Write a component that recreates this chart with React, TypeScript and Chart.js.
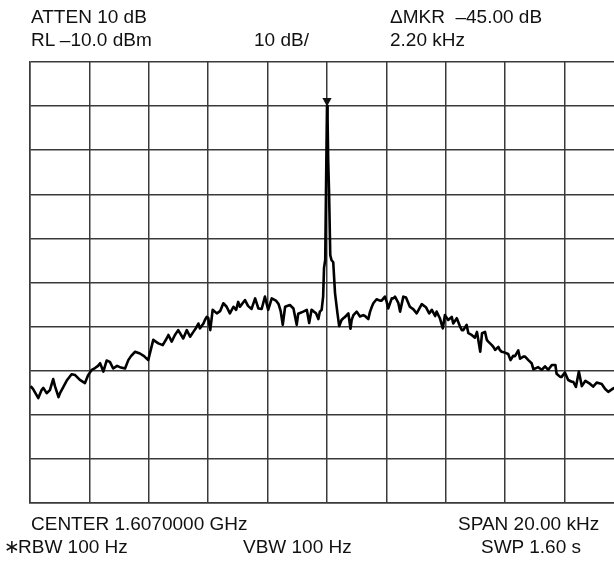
import React, { useEffect, useRef } from "react";
import { Chart, registerables } from "chart.js";

Chart.register(...registerables);

// Frequency offset from center (kHz) and measured level (dBm)
const freqOffsetKHz = [
  -9.98, -9.9, -9.72, -9.61, -9.55, -9.44, -9.33, -9.22, -9.16, -9.04,
  -8.99, -8.88, -8.75, -8.6, -8.48, -8.32, -8.15, -8.04, -7.92, -7.81,
  -7.71, -7.64, -7.53, -7.42, -7.31, -7.2, -7.07, -6.97, -6.8, -6.69,
  -6.6, -6.46, -6.3, -6.16, -6.02, -5.85, -5.68, -5.53, -5.4, -5.34,
  -5.23, -5.12, -5.01, -4.84, -4.72, -4.61, -4.5, -4.41, -4.33, -4.28,
  -4.16, -4.11, -4.05, -4.0, -3.93, -3.85, -3.71, -3.6, -3.49, -3.38,
  -3.27, -3.15, -3.06, -2.99, -2.93, -2.83, -2.76, -2.66, -2.54, -2.42,
  -2.31, -2.2, -2.09, -1.98, -1.86, -1.72, -1.63, -1.56, -1.49, -1.41,
  -1.25, -1.13, -1.02, -0.97, -0.8, -0.68, -0.6, -0.52, -0.46, -0.37,
  -0.29, -0.24, -0.18, -0.13, -0.1, -0.06, -0.03, 0.0, 0.02, 0.04,
  0.07, 0.11, 0.15, 0.21, 0.27, 0.35, 0.41, 0.49, 0.55, 0.61,
  0.72, 0.79, 0.83, 0.89, 1.0, 1.11, 1.22, 1.28, 1.39, 1.45,
  1.51, 1.56, 1.67, 1.78, 1.84, 1.95, 2.01, 2.06, 2.18, 2.23,
  2.29, 2.4, 2.46, 2.57, 2.66, 2.79, 2.91, 3.02, 3.19, 3.33,
  3.44, 3.53, 3.64, 3.69, 3.8, 3.9, 3.97, 4.08, 4.2, 4.25,
  4.37, 4.48, 4.54, 4.59, 4.7, 4.76, 4.87, 4.98, 5.05, 5.16,
  5.22, 5.32, 5.38, 5.43, 5.55, 5.6, 5.66, 5.77, 5.82, 5.88,
  5.99, 6.1, 6.18, 6.27, 6.33, 6.44, 6.5, 6.61, 6.67, 6.78,
  6.89, 6.95, 7.11, 7.23, 7.34, 7.45, 7.57, 7.69, 7.73, 7.85,
  7.9, 8.01, 8.12, 8.24, 8.29, 8.38, 8.48, 8.58, 8.7, 8.86,
  8.96, 9.08, 9.25, 9.36, 9.47, 9.64, 9.8, 9.93, 10.0,
];

const levelDbm = [
  -83.5, -84.1, -86.2, -84.4, -83.9, -85.1, -84.4, -81.9, -83.5, -86.0,
  -85.1, -83.7, -82.1, -80.8, -81.0, -82.1, -82.8, -81.0, -79.8, -79.4,
  -78.9, -78.3, -80.2, -77.7, -78.0, -79.5, -78.9, -79.2, -79.5, -77.6,
  -76.7, -75.7, -76.1, -76.7, -77.6, -73.0, -73.8, -74.2, -72.7, -71.9,
  -73.4, -71.9, -70.8, -72.7, -70.8, -72.3, -71.2, -70.3, -69.3, -70.4,
  -69.3, -68.5, -67.8, -68.0, -70.8, -66.2, -67.0, -66.5, -64.7, -65.5,
  -67.0, -65.5, -66.2, -64.4, -65.5, -64.6, -64.0, -65.3, -66.0, -63.6,
  -65.9, -66.0, -63.2, -66.2, -63.6, -64.1, -64.9, -66.5, -69.6, -65.5,
  -65.1, -65.9, -69.6, -67.1, -66.6, -66.2, -69.2, -66.2, -66.5, -67.0,
  -68.3, -66.6, -66.2, -63.2, -56.7, -54.9, -36.8, -20.0, -23.2, -32.2,
  -39.7, -53.8, -54.9, -55.4, -62.4, -66.9, -69.9, -68.5, -68.1, -67.8,
  -67.0, -70.5, -68.5, -67.4, -66.6, -67.7, -67.4, -67.6, -68.3, -66.6,
  -65.5, -64.7, -63.8, -64.1, -64.1, -63.2, -64.4, -65.9, -63.6, -63.6,
  -63.2, -64.6, -66.6, -63.2, -63.4, -65.5, -66.1, -67.0, -64.9, -65.6,
  -67.0, -66.2, -67.6, -66.6, -68.1, -70.4, -67.4, -68.5, -67.8, -69.3,
  -68.1, -70.0, -70.8, -70.8, -69.6, -71.5, -71.9, -72.5, -71.2, -75.7,
  -71.5, -71.2, -73.0, -73.4, -74.2, -74.6, -75.3, -74.6, -75.3, -75.7,
  -75.9, -76.2, -77.6, -76.6, -76.7, -75.4, -77.3, -76.8, -76.8, -77.6,
  -78.3, -79.7, -79.2, -79.8, -79.0, -79.8, -78.7, -78.7, -80.7, -81.4,
  -81.4, -80.4, -82.1, -82.5, -82.5, -83.7, -80.2, -83.5, -82.3, -83.0,
  -83.6, -82.7, -83.0, -84.1, -84.8, -84.0, -83.5, -84.4, -83.9,
];

// Display settings (span / reference level / scale)
const freqSpanKHz = [-10, 10];
const freqDivKHz = 2;
const levelRangeDbm = [-110, -10];
const levelDivDb = 10;

// Delta marker
const markerFreqKHz = 0;
const markerLevelDbm = -20;

// Annotation texts
const attenText = "ATTEN 10 dB";
const refLevelText = "RL \u201310.0 dBm";
const scaleText = "10 dB/";
const deltaMarkerText = "\u0394MKR  \u201345.00 dB";
const deltaFreqText = "2.20 kHz";
const centerText = "CENTER 1.6070000 GHz";
const spanText = "SPAN 20.00 kHz";
const rbwMarkText = "\u2217";
const rbwText = "RBW 100 Hz";
const vbwText = "VBW 100 Hz";
const sweepText = "SWP 1.60 s";

const FONT_SIZE = 19;
const BASE_OFF = 16;

const markerPlugin = {
  id: "deltaMarker",
  afterDatasetsDraw(chart: any) {
    const { ctx, scales } = chart;
    const px = scales.x.getPixelForValue(markerFreqKHz);
    const py = scales.y.getPixelForValue(markerLevelDbm);
    ctx.save();
    ctx.fillStyle = "#111";
    ctx.beginPath();
    ctx.moveTo(px - 4.6, py - 8);
    ctx.lineTo(px + 4.6, py - 8);
    ctx.lineTo(px, py + 0.5);
    ctx.closePath();
    ctx.fill();
    ctx.restore();
  },
};

function Label({ text, left, baseline, font }: { text: string; left: number; baseline: number; font?: string }) {
  return (
    <div
      style={{
        position: "absolute",
        left,
        top: baseline - BASE_OFF,
        fontFamily: font || '"Liberation Sans", Arial, sans-serif',
        fontSize: FONT_SIZE,
        lineHeight: `${FONT_SIZE}px`,
        color: "#111",
        whiteSpace: "pre",
      }}
    >
      {text}
    </div>
  );
}

export default function App() {
  const canvasRef = useRef<HTMLCanvasElement | null>(null);

  useEffect(() => {
    if (!canvasRef.current) return;
    const points = freqOffsetKHz.map((f, i) => ({ x: f, y: levelDbm[i] }));
    const gridColor = "#3a3a3a";
    const chart = new Chart(canvasRef.current, {
      type: "line",
      data: {
        datasets: [
          {
            data: points,
            borderColor: "#000",
            borderWidth: 2.6,
            pointRadius: 0,
            tension: 0,
            borderJoinStyle: "round",
            fill: false,
          },
        ],
      },
      options: {
        responsive: false,
        animation: false,
        devicePixelRatio: 1,
        layout: { padding: { left: 30, top: 62, right: 16, bottom: 60 } },
        plugins: { legend: { display: false }, tooltip: { enabled: false }, title: { display: false } },
        scales: {
          x: {
            type: "linear",
            min: freqSpanKHz[0],
            max: freqSpanKHz[1],
            ticks: { display: false, stepSize: freqDivKHz },
            grid: { color: gridColor, lineWidth: 1.5, drawTicks: false },
            border: { display: true, color: gridColor, width: 1.5 },
            afterFit: (s: any) => {
              s.height = 0;
            },
          },
          y: {
            type: "linear",
            min: levelRangeDbm[0],
            max: levelRangeDbm[1],
            ticks: { display: false, stepSize: levelDivDb },
            grid: { color: gridColor, lineWidth: 1.5, drawTicks: false },
            border: { display: true, color: gridColor, width: 1.5 },
            afterFit: (s: any) => {
              s.width = 0;
            },
          },
        },
      },
      plugins: [markerPlugin],
    } as any);
    return () => chart.destroy();
  }, []);

  return (
    <div
      style={{
        position: "absolute",
        left: 0,
        top: 0,
        width: 614,
        height: 563,
        overflow: "hidden",
        background: "#fff",
      }}
    >
      <canvas ref={canvasRef} width={640} height={563} style={{ position: "absolute", left: 0, top: 0, width: 640, height: 563 }} />
      <Label text={attenText} left={31} baseline={23} />
      <Label text={refLevelText} left={31} baseline={46} />
      <Label text={scaleText} left={254} baseline={46} />
      <Label text={deltaMarkerText} left={390} baseline={23} />
      <Label text={deltaFreqText} left={390} baseline={46} />
      <Label text={centerText} left={31} baseline={530} />
      <Label text={spanText} left={458} baseline={530} />
      <Label text={rbwMarkText} left={4} baseline={553} font='"DejaVu Sans", sans-serif' />
      <Label text={rbwText} left={18} baseline={553} />
      <Label text={vbwText} left={243} baseline={553} />
      <Label text={sweepText} left={481} baseline={553} />
    </div>
  );
}
